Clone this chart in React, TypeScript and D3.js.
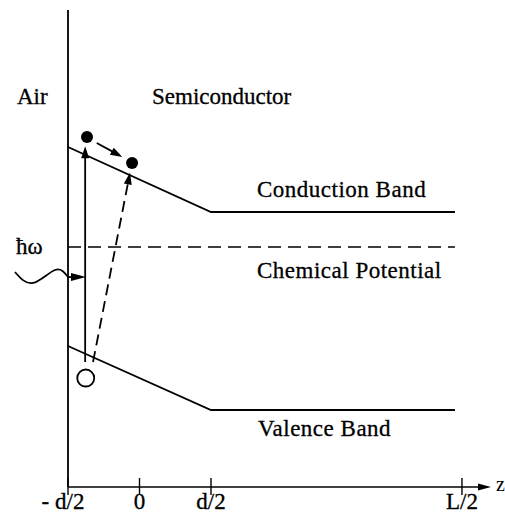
import React from 'react';
import * as d3 from 'd3';

// position along z, in units of d (surface at -d/2)
const tickZ = [-0.5, 0, 0.5, 2.255];
const tickLabels = ['- d/2', '0', 'd/2', 'L/2'];

// band edges (z, energy), bent near the surface, flat in the bulk
const conductionBand: [number, number][] = [[-0.5, 2.657], [0.5, 2.0], [2.206, 2.0]];
const valenceBand: [number, number][] = [[-0.5, 0.646], [0.5, 0.0], [2.206, 0.0]];
const chemicalPotential: [number, number][] = [[-0.5, 1.646], [2.206, 1.646]];

// carriers
const electrons: [number, number][] = [[-0.367, 2.758], [-0.052, 2.495]];
const holes: [number, number][] = [[-0.376, 0.323]];

// transitions: [from, to]
const directArrow: [number, number][] = [[-0.38, 0.485], [-0.38, 2.663]];
const indirectArrow: [number, number][] = [[-0.325, 0.485], [-0.066, 2.40]];
const relaxArrow: [number, number][] = [[-0.299, 2.697], [-0.12, 2.556]];

// incoming photon
const photonWave: [number, number][] = [[-0.871, 1.394], [-0.745, 1.283], [-0.591, 1.414], [-0.5, 1.343]];
const photonTip: [number, number] = [-0.374, 1.343];

const W = 505;
const H = 514;
const axisY = 487;
const topY = 10;
const font = 'Liberation Serif, DejaVu Serif, serif';

const x = d3.scaleLinear().domain([-0.5, 0.5]).range([68, 211]);
const y = d3.scaleLinear().domain([0, 2]).range([410, 212]);

const line = d3.line<[number, number]>().x(d => x(d[0])).y(d => y(d[1]));
const waveLine = d3.line<[number, number]>().x(d => x(d[0])).y(d => y(d[1])).curve(d3.curveNatural);

function head(x1: number, y1: number, x2: number, y2: number, len = 12, half = 4) {
  const a = Math.atan2(y2 - y1, x2 - x1);
  const bx = x2 - len * Math.cos(a);
  const by = y2 - len * Math.sin(a);
  const px = -Math.sin(a) * half;
  const py = Math.cos(a) * half;
  return `M${x2},${y2}L${bx + px},${by + py}L${bx - px},${by - py}Z`;
}

function Arrow({ pts, dash }: { pts: [number, number][]; dash?: string }) {
  const [a, b] = pts;
  const x1 = x(a[0]), y1 = y(a[1]), x2 = x(b[0]), y2 = y(b[1]);
  const ang = Math.atan2(y2 - y1, x2 - x1);
  return (
    <g>
      <line x1={x1} y1={y1} x2={x2 - 8 * Math.cos(ang)} y2={y2 - 8 * Math.sin(ang)}
        stroke="#000" strokeWidth={1.8} strokeDasharray={dash} />
      <path d={head(x1, y1, x2, y2)} fill="#000" />
    </g>
  );
}

export default function App() {
  const waveEnd = photonWave[photonWave.length - 1];
  return (
    <svg width={W} height={H} fontFamily={font} fontSize={23}
      style={{ position: 'absolute', left: 0, top: 0, background: '#fff' }}>
      {/* surface and z axis */}
      <line x1={x(-0.5)} y1={topY} x2={x(-0.5)} y2={axisY} stroke="#000" strokeWidth={1.8} />
      <line x1={x(-0.5)} y1={axisY} x2={480} y2={axisY} stroke="#000" strokeWidth={1.4} />
      <path d={head(x(-0.5), axisY, 491, axisY, 13, 3.5)} fill="#000" />
      <text x={496} y={491} fontSize={20}>z</text>
      {tickZ.map((t, i) => (
        <g key={i}>
          <line x1={x(t)} x2={x(t)} y1={axisY - 9} y2={axisY + 8} stroke="#000" strokeWidth={1.4} />
          <text x={x(t) + (i === 0 ? -5 : 0)} y={509} textAnchor="middle" stroke="#000" strokeWidth={0.3}>{tickLabels[i]}</text>
        </g>
      ))}

      {/* bands */}
      <path d={line(conductionBand) ?? ''} fill="none" stroke="#000" strokeWidth={1.8} />
      <path d={line(valenceBand) ?? ''} fill="none" stroke="#000" strokeWidth={1.8} />
      <path d={line(chemicalPotential) ?? ''} fill="none" stroke="#000" strokeWidth={1.6} strokeDasharray="13 7" />

      {/* transitions */}
      <Arrow pts={directArrow} />
      <Arrow pts={indirectArrow} dash="11 6" />
      <Arrow pts={relaxArrow} />

      {/* photon */}
      <path d={waveLine(photonWave) ?? ''} fill="none" stroke="#000" strokeWidth={1.8} />
      <line x1={x(waveEnd[0])} y1={y(waveEnd[1])} x2={x(photonTip[0]) - 8} y2={y(photonTip[1])} stroke="#000" strokeWidth={1.8} />
      <path d={head(x(waveEnd[0]), y(waveEnd[1]), x(photonTip[0]), y(photonTip[1]), 15, 4)} fill="#000" />

      {electrons.map((e, i) => (
        <circle key={i} cx={x(e[0])} cy={y(e[1])} r={6} fill="#000" />
      ))}
      {holes.map((h, i) => (
        <circle key={i} cx={x(h[0])} cy={y(h[1])} r={8.5} fill="#fff" stroke="#000" strokeWidth={1.8} />
      ))}

      {/* labels */}
      <g stroke="#000" strokeWidth={0.3}>
        <text x={17} y={104}>Air</text>
        <text x={152} y={104}>Semiconductor</text>
        <text x={16} y={254}>ħω</text>
        <text x={257} y={197} letterSpacing={0.5}>Conduction Band</text>
        <text x={257} y={278} letterSpacing={0.5}>Chemical Potential</text>
        <text x={258} y={436} letterSpacing={0.5}>Valence Band</text>
      </g>
    </svg>
  );
}
